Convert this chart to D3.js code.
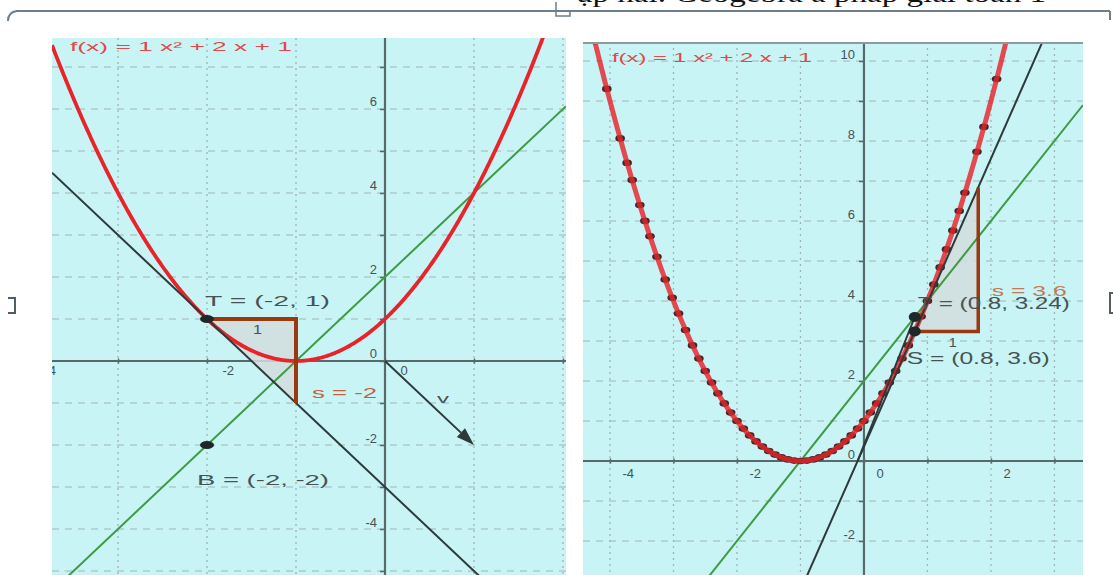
<!DOCTYPE html>
<html>
<head>
<meta charset="utf-8">
<script src="https://cdn.jsdelivr.net/npm/d3@7"></script>
<style>
  body { margin: 0; background: #fff; }
  svg { display: block; }
  text { font-family: "Liberation Sans", Arial, sans-serif; }
</style>
</head>
<body>
<div id="chart"></div>
<script>
// f(x) = a x² + b x + c
const coefs = [1, 2, 1]
const fLabel = 'f(x) = 1 x² + 2 x + 1'

// left panel (tangent at T, vector v, point B)
const leftXLabels = [-4, -2, 0, 2]
const leftYLabels = [-4, -2, 0, 2, 4, 6]
const leftSecant = [2, 2]          // slope, intercept of green line
const leftT = [-2, 1]
const leftSlope = -2
const leftB = [-2, -2]
const leftV = [1, -2]

// right panel (tangent at T, slope point S, trace of T)
const rightXLabels = [-4, -2, 0, 2]
const rightYLabels = [-2, 0, 2, 4, 6, 8, 10]
const rightSecant = [2, 2]
const rightT = [0.8, 3.24]
const rightS = [0.8, 3.6]
const rightSlope = 3.6
const rightChord = [[-0.1, 0], [0.8, 3.6]]
const traceX = [-4.24, -4.05, -3.84, -3.73, -3.65, -3.53, -3.45, -3.37, -3.26, -3.13,
  -3.02, -2.92, -2.81, -2.7, -2.6, -2.5, -2.4, -2.3, -2.2, -2.1, -2.0, -1.9, -1.8,
  -1.7, -1.6, -1.5, -1.4, -1.3, -1.2, -1.1, -1.0, -0.9, -0.8, -0.7, -0.6, -0.5,
  -0.4, -0.3, -0.2, -0.1, 0.0, 0.1, 0.2, 0.3, 0.4, 0.5, 0.6, 0.7, 0.8,
  0.9, 1.0, 1.1, 1.2, 1.3, 1.4, 1.5, 1.59, 1.78, 1.89, 2.09]

const f = x => coefs[0] * x * x + coefs[1] * x + coefs[2]

const W = 1113, H = 575
const svg = d3.select('#chart').append('svg')
  .attr('width', W).attr('height', H)

const COL = {
  bg: '#c9f4f6', grid: '#9fb4b6', axis: '#566a6b', red: '#e8242a', green: '#3d9b45',
  black: '#2e3939', brown: '#9a3810', brownText: '#c0623e', text: '#465354'
}

// document frame bits
svg.append('line').attr('x1', 16).attr('x2', 1110).attr('y1', 11).attr('y2', 11)
  .attr('stroke', '#6e7f8b').attr('stroke-width', 2)
svg.append('path').attr('d', 'M17,11 Q8,12 8,21').attr('fill', 'none')
  .attr('stroke', '#6e7f8b').attr('stroke-width', 2)
svg.append('path').attr('d', 'M556,2 L556,16 L570,16 L570,11').attr('fill', 'none')
  .attr('stroke', '#6e7f8b').attr('stroke-width', 1.5)
svg.append('path').attr('d', 'M1110,11 L1110,20').attr('stroke', '#6e7f8b').attr('stroke-width', 2)
svg.append('path').attr('d', 'M8,298 L15,298 L15,313 L8,313').attr('fill', 'none')
  .attr('stroke', '#4f5f66').attr('stroke-width', 2)
svg.append('path').attr('d', 'M1113,293 L1110,293 L1110,313 L1113,313').attr('fill', 'none')
  .attr('stroke', '#4f5f66').attr('stroke-width', 2)
svg.append('text').attr('x', 576).attr('y', 2)
  .attr('textLength', 470).attr('lengthAdjust', 'spacingAndGlyphs')
  .style('font-family', '"Liberation Serif", "Times New Roman", serif')
  .style('font-size', '25px').attr('fill', '#111')
  .text('ụp hai.  Geogebra ả pháp giải toán 1')

function drawPanel(p) {
  const x = d3.scaleLinear().domain(p.xDom).range([p.x0, p.x1])
  const y = d3.scaleLinear().domain(p.yDom).range([p.y0, p.y1])

  svg.append('clipPath').attr('id', p.id)
    .append('rect').attr('x', p.x0).attr('y', p.y0)
    .attr('width', p.x1 - p.x0).attr('height', p.y1 - p.y0)

  const g = svg.append('g').attr('clip-path', `url(#${p.id})`)
  g.append('rect').attr('x', p.x0).attr('y', p.y0)
    .attr('width', p.x1 - p.x0).attr('height', p.y1 - p.y0).attr('fill', COL.bg)

  // grid
  const gx = d3.range(Math.ceil(p.xDom[0]), Math.floor(p.xDom[1]) + 1)
  const gy = d3.range(Math.ceil(p.yDom[1]), Math.floor(p.yDom[0]) + 1)
  g.selectAll('.vg').data(gx.filter(d => d !== 0)).join('line')
    .attr('x1', x).attr('x2', x).attr('y1', p.y0).attr('y2', p.y1)
    .attr('stroke', COL.grid).attr('stroke-width', 1.3).attr('stroke-dasharray', '2,4')
  g.selectAll('.hg').data(gy.filter(d => d !== 0)).join('line')
    .attr('y1', y).attr('y2', y).attr('x1', p.x0).attr('x2', p.x1)
    .attr('stroke', COL.grid).attr('stroke-width', 1.2).attr('stroke-dasharray', '7,6')

  // axes
  const xAxis = d3.axisBottom(x).tickValues(d3.range(-5, 5))
    .tickSize(5).tickFormat(d => p.xLabels.includes(d) ? d : '')
  const xa = g.append('g').attr('transform', `translate(0,${y(0) - 2.5})`).call(xAxis)
  xa.select('.domain').remove()
  xa.selectAll('line').attr('stroke', COL.axis).attr('stroke-width', 1.5)
  xa.selectAll('text').attr('fill', COL.text).attr('y', p.xLabelDy).attr('dy', 0)
    .attr('x', p.xLabelDx).attr('text-anchor', 'start').style('font-size', p.tickFont + 'px')
  g.append('line').attr('x1', p.x0).attr('x2', p.x1).attr('y1', y(0)).attr('y2', y(0))
    .attr('stroke', COL.axis).attr('stroke-width', 2.2)

  const yAxis = d3.axisLeft(y).tickValues(d3.range(-6, 12))
    .tickSize(5).tickFormat(d => p.yLabels.includes(d) ? d : '')
  const ya = g.append('g').attr('transform', `translate(${x(0)},0)`).call(yAxis)
  ya.select('.domain').remove()
  ya.selectAll('line').attr('stroke', COL.axis).attr('stroke-width', 1.5)
  ya.selectAll('text').attr('fill', COL.text).attr('x', p.yLabelDx).attr('dy', 0)
    .attr('y', -3).style('font-size', p.tickFont + 'px')
  g.append('line').attr('y1', p.y0).attr('y2', p.y1).attr('x1', x(0)).attr('x2', x(0))
    .attr('stroke', COL.axis).attr('stroke-width', 2.2)

  // slope triangle
  const [tx, ty] = p.T
  const tri = [[tx, ty], [tx + 1, ty], [tx + 1, ty + p.slope]]
  const path = d3.line().x(d => x(d[0])).y(d => y(d[1]))
  g.append('path').attr('d', path(tri) + 'Z')
    .attr('fill', '#d2dcdc').attr('opacity', 0.85)

  // lines (slope, intercept) drawn across the visible x range
  const lineThrough = (m, b) => [[p.xDom[0], m * p.xDom[0] + b], [p.xDom[1], m * p.xDom[1] + b]]
  g.append('path').attr('d', path(lineThrough(p.secant[0], p.secant[1])))
    .attr('stroke', COL.green).attr('stroke-width', 2).attr('fill', 'none')

  // trace points (right panel)
  if (p.trace) {
    g.selectAll('.tr').data(p.trace).join('ellipse')
      .attr('cx', d => x(d)).attr('cy', d => y(f(d)))
      .attr('rx', 4.8).attr('ry', 3.3).attr('fill', '#3b2a2a')
  }

  // parabola
  const xs = d3.range(p.xDom[0], p.xDom[1] + 0.01, 0.01)
  g.append('path').attr('d', path(xs.map(v => [v, f(v)])))
    .attr('stroke', COL.red).attr('stroke-width', p.redWidth).attr('fill', 'none')
    .attr('opacity', p.trace ? 0.82 : 1)

  // tangent line through T
  g.append('path').attr('d', path(lineThrough(p.slope, ty - p.slope * tx)))
    .attr('stroke', COL.black).attr('stroke-width', 2).attr('fill', 'none')
  if (p.chord) {
    g.append('path').attr('d', path(p.chord))
      .attr('stroke', COL.black).attr('stroke-width', 2).attr('fill', 'none')
  }

  // slope triangle legs
  g.append('path').attr('d', path(tri))
    .attr('stroke', COL.brown).attr('stroke-width', p.legWidth).attr('fill', 'none')

  // vector v
  if (p.V) {
    const ox = x(0), oy = y(0), ex = x(p.V[0]), ey = y(p.V[1])
    const ang = Math.atan2(ey - oy, ex - ox)
    const L = 18, wd = 6
    const bx = ex - L * Math.cos(ang), by = ey - L * Math.sin(ang)
    g.append('line').attr('x1', ox).attr('y1', oy).attr('x2', bx).attr('y2', by)
      .attr('stroke', COL.black).attr('stroke-width', 2)
    g.append('path').attr('d', `M${ex},${ey} L${bx - wd * Math.sin(ang)},${by + wd * Math.cos(ang)} L${bx + wd * Math.sin(ang)},${by - wd * Math.cos(ang)} Z`)
      .attr('fill', COL.black)
  }

  // points
  const pts = [p.T].concat(p.B ? [p.B] : []).concat(p.S ? [p.S] : [])
  g.selectAll('.pt').data(pts).join('ellipse')
    .attr('cx', d => x(d[0])).attr('cy', d => y(d[1]))
    .attr('rx', p.ptRx).attr('ry', p.ptRy).attr('fill', '#1f2828')

  // labels
  const lab = (t, px, py, size, w, col) => g.append('text')
    .attr('x', px).attr('y', py).attr('fill', col || COL.text)
    .style('font-size', size + 'px')
    .attr('textLength', w).attr('lengthAdjust', 'spacingAndGlyphs').text(t)
  p.labels.forEach(l => lab(l.t, x(l.at[0]) + l.dx, y(l.at[1]) + l.dy, l.size, l.w, l.col))

  if (p.topBorder) {
    svg.append('line').attr('x1', p.x0).attr('x2', p.x1).attr('y1', p.y0 + 1).attr('y2', p.y0 + 1)
      .attr('stroke', '#8c9c9e').attr('stroke-width', 2)
  }
}

drawPanel({
  id: 'clipL', x0: 52, x1: 566, y0: 38, y1: 575,
  xDom: [-3.742, 2.034], yDom: [7.69, -5.095],
  xLabels: leftXLabels, yLabels: leftYLabels,
  xLabelDx: 15, xLabelDy: 17, yLabelDx: -8, tickFont: 13,
  secant: leftSecant, T: leftT, slope: leftSlope, B: leftB, V: leftV,
  redWidth: 3.8, legWidth: 4, ptRx: 7, ptRy: 4,
  labels: [
    { t: fLabel, at: [-3.742, 7.69], dx: 18, dy: 13, size: 12, w: 222, col: '#e0484a' },
    { t: 'T = (-2, 1)', at: leftT, dx: -2, dy: -13, size: 14, w: 125 },
    { t: '1', at: leftT, dx: 46, dy: 15, size: 12, w: 9 },
    { t: 's = -2', at: [leftT[0] + 1, leftT[1] + leftSlope / 2], dx: 16, dy: 37, size: 14, w: 65, col: COL.brownText },
    { t: 'B = (-2, -2)', at: leftB, dx: -10, dy: 40, size: 14, w: 132 },
    { t: 'v', at: [0, 0], dx: 52, dy: 42, size: 13, w: 12 }
  ]
})

drawPanel({
  id: 'clipR', x0: 583, x1: 1083, y0: 42, y1: 575,
  xDom: [-4.425, 3.45], yDom: [10.475, -2.85],
  xLabels: rightXLabels, yLabels: rightYLabels,
  xLabelDx: 12, xLabelDy: 19, yLabelDx: -9, tickFont: 13,
  secant: rightSecant, T: rightT, slope: rightSlope, S: rightS, chord: rightChord,
  trace: traceX, topBorder: true,
  redWidth: 5, legWidth: 3.5, ptRx: 6, ptRy: 5,
  labels: [
    { t: fLabel, at: [-4.425, 10.475], dx: 29, dy: 20, size: 13, w: 200, col: '#e0484a' },
    { t: 'T = (0.8, 3.24)', at: rightT, dx: 3, dy: -22, size: 17, w: 152 },
    { t: 's = 3.6', at: rightT, dx: 77, dy: -35, size: 15, w: 75, col: '#c07a55' },
    { t: '1', at: rightT, dx: 34, dy: 16, size: 13, w: 8 },
    { t: 'S = (0.8, 3.6)', at: rightS, dx: -8, dy: 47, size: 17, w: 143 }
  ]
})
</script>
</body>
</html>
